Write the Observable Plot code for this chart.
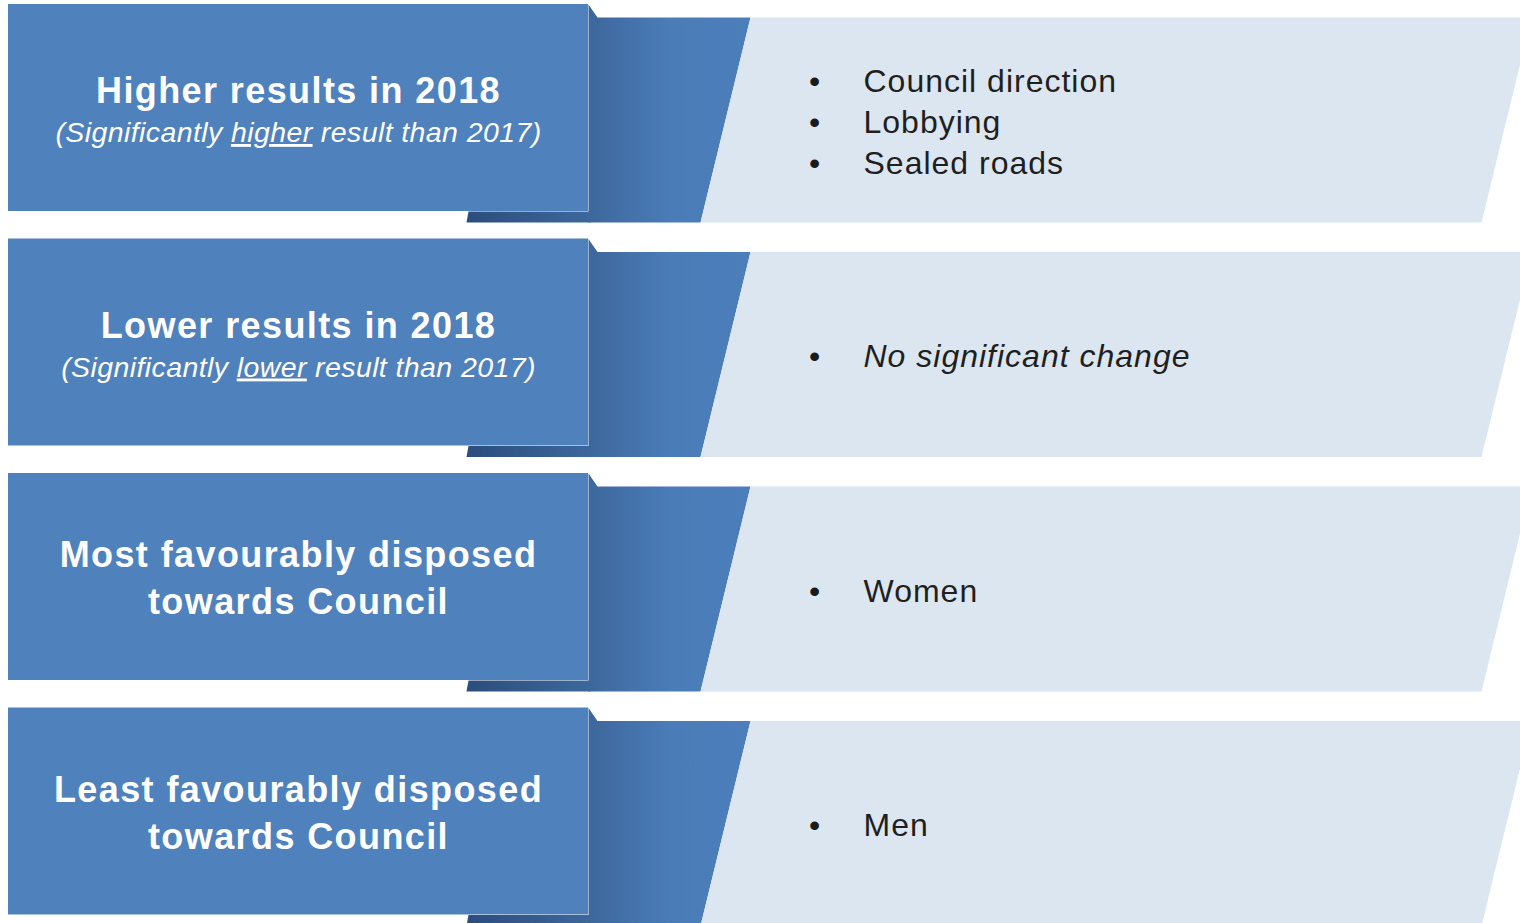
<!DOCTYPE html>
<html>
<head>
<meta charset="utf-8">
<script src="https://cdn.jsdelivr.net/npm/d3@7"></script>
<script src="https://cdn.jsdelivr.net/npm/@observablehq/plot@0.6"></script>
<style>
  html, body { margin: 0; padding: 0; background: #ffffff; }
  .hdr text { letter-spacing: 1.4px; }
  .sub text { letter-spacing: 0.4px; }
  .item text { letter-spacing: 1px; }
</style>
</head>
<body>
<div id="chart"></div>
<script>
// ---- data ----
const headings = [
  ["Higher results in 2018"],
  ["Lower results in 2018"],
  ["Most favourably disposed", "towards Council"],
  ["Least favourably disposed", "towards Council"]
];
const subtitles = [
  "(Significantly higher result than 2017)",
  "(Significantly lower result than 2017)",
  "",
  ""
];
const underlinedWords = ["higher", "lower", null, null];
const items = [
  ["Council direction", "Lobbying", "Sealed roads"],
  ["No significant change"],
  ["Women"],
  ["Men"]
];
const italicItems = [false, true, false, false];

// ---- layout (not data) ----
const W = 1520, H = 923;
const step = 234.5, top0 = 4;
const rowTop = i => top0 + step * i;

const fronts = [], backs = [], lights = [], strips = [];
const hdrRows = [], subRows = [], itemRows = [], bulletRows = [];

headings.forEach((lines, i) => {
  const T = rowTop(i);
  fronts.push({x1: 8, x2: 588, y1: T, y2: T + 207});
  [[588, T], [597, T + 13], [750, T + 13], [700, T + 218], [588, T + 218]]
    .forEach(([x, y]) => backs.push({id: i, x, y}));
  [[750, T + 13], [1531, T + 13], [1481, T + 218], [700, T + 218]]
    .forEach(([x, y]) => lights.push({id: i, x, y}));
  [[468, T + 207], [590, T + 207], [590, T + 218], [466, T + 218]]
    .forEach(([x, y]) => strips.push({id: i, x, y}));

  if (lines.length === 1) {
    hdrRows.push({x: 298, y: T + 98.5, text: lines[0]});
    subRows.push({x: 298, y: T + 137.5, text: subtitles[i], u: underlinedWords[i]});
  } else {
    lines.forEach((t, j) => hdrRows.push({x: 298, y: T + 93.5 + 47 * j, text: t}));
  }
  const n = items[i].length;
  items[i].forEach((t, j) => {
    const y = T + 128 + (j - (n - 1) / 2) * 41;
    itemRows.push({x: 863, y, text: t, italic: italicItems[i]});
    bulletRows.push({x: 814, y, text: "\u2022"});
  });
});

const font = "'Liberation Sans', Arial, sans-serif";

const chart = Plot.plot({
  width: W,
  height: H,
  margin: 0,
  style: {background: "#ffffff", fontFamily: font},
  x: {domain: [0, W], axis: null},
  y: {domain: [H, 0], axis: null},
  marks: [
    Plot.line(strips, {x: "x", y: "y", z: "id", fill: "url(#stripGrad)", stroke: "none"}),
    Plot.line(backs, {x: "x", y: "y", z: "id", fill: "url(#backGrad)", stroke: "none"}),
    Plot.line(lights, {x: "x", y: "y", z: "id", fill: "#dce6f1", stroke: "none"}),
    Plot.rect(fronts, {x1: "x1", x2: "x2", y1: "y1", y2: "y2", fill: "#4f81bd"}),
    Plot.text(hdrRows, {x: "x", y: "y", text: "text", fill: "#ffffff", fontSize: 36, fontWeight: "bold",
      textAnchor: "middle", lineAnchor: "bottom", className: "hdr"}),
    Plot.text(subRows, {x: "x", y: "y", text: "text", fill: "#ffffff", fontSize: 28.5, fontStyle: "italic",
      textAnchor: "middle", lineAnchor: "bottom", className: "sub"}),
    Plot.text(bulletRows, {x: "x", y: "y", text: "text", fill: "#1a1a1a", fontSize: 32,
      textAnchor: "middle", lineAnchor: "bottom"}),
    Plot.text(itemRows.filter(d => !d.italic), {x: "x", y: "y", text: "text", fill: "#1f1f1f", fontSize: 32,
      textAnchor: "start", lineAnchor: "bottom", className: "item"}),
    Plot.text(itemRows.filter(d => d.italic), {x: "x", y: "y", text: "text", fill: "#1f1f1f", fontSize: 32,
      fontStyle: "italic", textAnchor: "start", lineAnchor: "bottom", className: "item"})
  ]
});

// gradients
const svg = d3.select(chart);
const defs = svg.insert("defs", ":first-child");
const g1 = defs.append("linearGradient").attr("id", "backGrad").attr("x1", "0").attr("x2", "1").attr("y1", "0").attr("y2", "0");
g1.append("stop").attr("offset", "0").attr("stop-color", "#3d679b");
g1.append("stop").attr("offset", "0.5").attr("stop-color", "#4a7cb8");
g1.append("stop").attr("offset", "1").attr("stop-color", "#4b7eba");
const g2 = defs.append("linearGradient").attr("id", "stripGrad").attr("x1", "0").attr("x2", "1").attr("y1", "0").attr("y2", "0");
g2.append("stop").attr("offset", "0").attr("stop-color", "#2c4d7c");
g2.append("stop").attr("offset", "1").attr("stop-color", "#3d689d");

// underline the key word in subtitles
svg.selectAll(".sub text").each(function () {
  const el = d3.select(this);
  const t = el.text();
  const u = underlinedWords.find(w => w && t.includes(" " + w + " "));
  if (!u) return;
  const k = t.indexOf(" " + u + " ") + 1;
  el.text(null);
  el.append("tspan").text(t.slice(0, k));
  el.append("tspan").style("text-decoration", "underline").text(u);
  el.append("tspan").text(t.slice(k + u.length));
});

document.getElementById("chart").appendChild(chart);
</script>
</body>
</html>
